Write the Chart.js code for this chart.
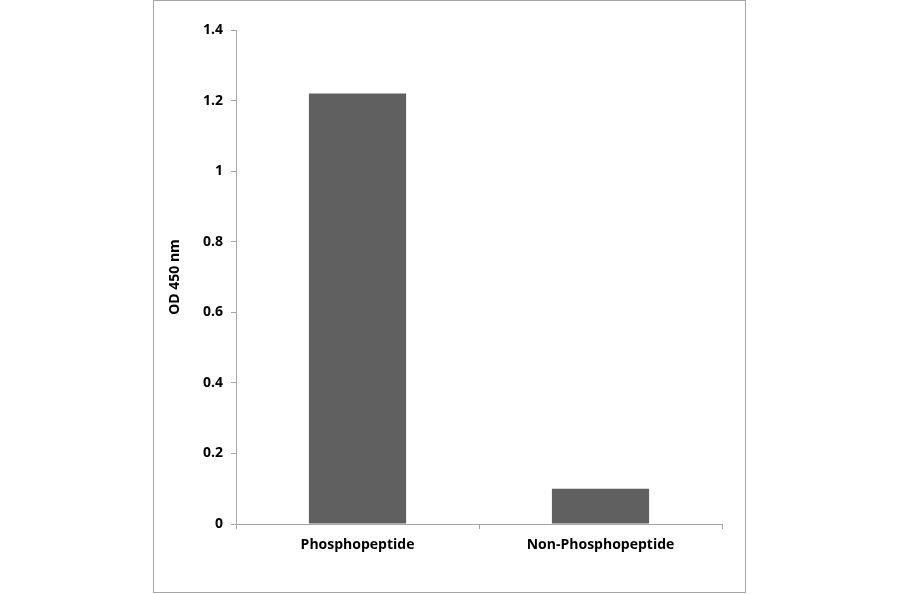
<!DOCTYPE html>
<html>
<head>
<meta charset="utf-8">
<script src="https://cdn.jsdelivr.net/npm/chart.js@4"></script>
<style>
html,body{margin:0;padding:0;background:#fff;}
#wrap{position:relative;width:900px;height:594px;}
</style>
</head>
<body>
<div id="wrap"><canvas id="c" width="900" height="594"></canvas></div>
<script>
const categories = ["Phosphopeptide", "Non-Phosphopeptide"];
const odValues = [1.22, 0.10];
const yTicks = [0, 0.2, 0.4, 0.6, 0.8, 1, 1.2, 1.4];
const yTickLabels = ["0", "0.2", "0.4", "0.6", "0.8", "1", "1.2", "1.4"];
const yTitle = "OD 450 nm";

const frame = {
  id: 'frame',
  beforeDraw(chart) {
    const ctx = chart.ctx;
    ctx.save();
    ctx.fillStyle = '#fff';
    ctx.fillRect(0, 0, chart.width, chart.height);
    ctx.strokeStyle = '#a6a6a6';
    ctx.lineWidth = 1;
    ctx.strokeRect(153.5, 0.5, 592, 592);
    ctx.restore();
  }
};

const font = { family: "'Open Sans', 'Liberation Sans', sans-serif", weight: 'bold', size: 14 };

new Chart(document.getElementById('c'), {
  type: 'bar',
  data: {
    labels: categories,
    datasets: [{
      data: odValues,
      backgroundColor: '#606060',
      borderWidth: 0,
      categoryPercentage: 0.4,
      barPercentage: 1.0
    }]
  },
  options: {
    responsive: false,
    animation: false,
    devicePixelRatio: 1,
    layout: { padding: { left: 167, right: 178, top: 30, bottom: 0 } },
    plugins: { legend: { display: false }, tooltip: { enabled: false } },
    scales: {
      x: {
        afterFit(s) { s.height = 70; },
        grid: { drawOnChartArea: false, offset: true, tickLength: 5, color: '#a6a6a6' },
        border: { color: '#a6a6a6' },
        ticks: { color: '#000', font: font, padding: 8 }
      },
      y: {
        min: 0, max: 1.4,
        afterFit(s) { s.width = 69; },
        afterBuildTicks(s) { s.ticks = yTicks.map(v => ({ value: v })); },
        grid: { drawOnChartArea: false, tickLength: 5, color: '#a6a6a6' },
        border: { color: '#a6a6a6' },
        ticks: {
          color: '#000', font: font, padding: 8,
          callback: (v) => { const i = yTicks.indexOf(v); return i >= 0 ? yTickLabels[i] : String(v); }
        },
        title: { display: true, text: yTitle, color: '#000', font: font, padding: 0 }
      }
    }
  },
  plugins: [frame]
});
</script>
</body>
</html>
